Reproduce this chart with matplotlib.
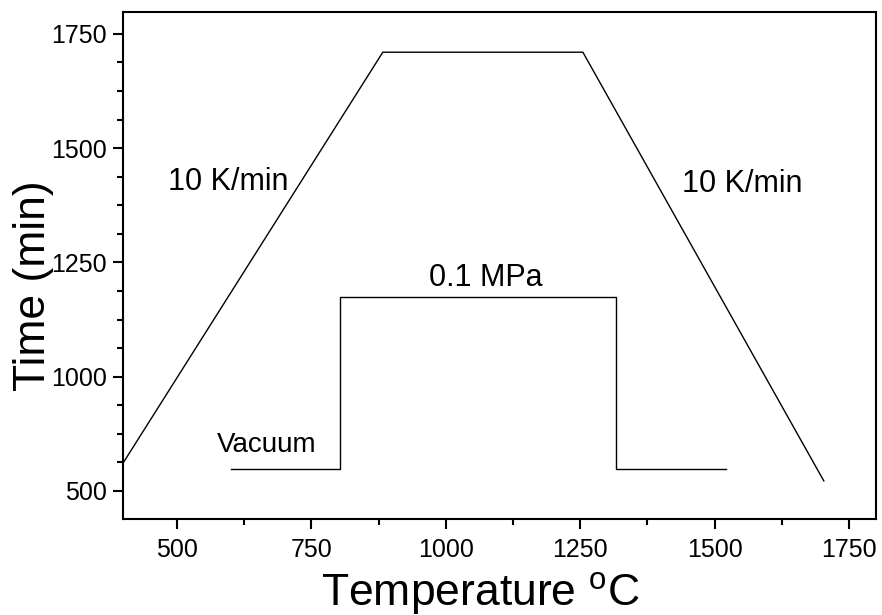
import matplotlib
matplotlib.use("Agg")
import matplotlib.pyplot as plt
from matplotlib.ticker import MultipleLocator, FixedLocator, FixedFormatter

plt.rcParams['font.family'] = ['Liberation Sans', 'DejaVu Sans']
plt.rcParams['mathtext.fontset'] = 'custom'
plt.rcParams['mathtext.rm'] = 'Liberation Sans'
plt.rcParams['mathtext.it'] = 'Liberation Sans'

# heating / holding / cooling schedule
temp_profile = [400, 883, 1255, 1703]
time_profile = [811, 1710, 1710, 772]

# atmosphere: vacuum -> 0.1 MPa -> vacuum
gas_temp = [600, 803, 803, 1317, 1317, 1521]
gas_time = [798, 798, 1175, 1175, 798, 798]

x_ticks = [500, 750, 1000, 1250, 1500, 1750]
y_ticks = [750, 1000, 1250, 1500, 1750]
y_tick_labels = ["500", "1000", "1250", "1500", "1750"]

fig = plt.figure(figsize=(8.82, 6.15), dpi=100)
ax = fig.add_axes([0.1395, 0.1561, 0.8537, 0.8244])

ax.plot(temp_profile, time_profile, color='black', lw=1.0)
ax.plot(gas_temp, gas_time, color='black', lw=1.0)

ax.text(483, 1408, "10 K/min", fontsize=22, ha='left', va='baseline')
ax.text(1439, 1404, "10 K/min", fontsize=22, ha='left', va='baseline')
ax.text(969, 1198, "0.1 MPa", fontsize=22, ha='left', va='baseline')
ax.text(574, 835, "Vacuum", fontsize=20, ha='left', va='baseline')

ax.set_xlim(400, 1800)
ax.set_ylim(688.7, 1798)

ax.xaxis.set_major_locator(FixedLocator(x_ticks))
ax.xaxis.set_minor_locator(MultipleLocator(125))
ax.yaxis.set_major_locator(FixedLocator(y_ticks))
ax.yaxis.set_major_formatter(FixedFormatter(y_tick_labels))
ax.yaxis.set_minor_locator(MultipleLocator(62.5))

ax.tick_params(which='both', direction='out', width=1.5, top=False, right=False,
               labelsize=18)
ax.tick_params(which='major', length=7.5)
ax.tick_params(which='minor', length=4.5)
ax.tick_params(axis='x', which='major', pad=6)
ax.tick_params(axis='y', which='major', pad=4)
for sp in ax.spines.values():
    sp.set_linewidth(1.5)

ax.set_xlabel(r"Temperature $^{\mathrm{o}}$C", fontsize=32)
ax.set_ylabel("Time (min)", fontsize=32)
ax.xaxis.set_label_coords(0.474, -0.10)
ax.yaxis.set_label_coords(-0.092, 0.46)

fig.savefig("out.png", dpi=100)
